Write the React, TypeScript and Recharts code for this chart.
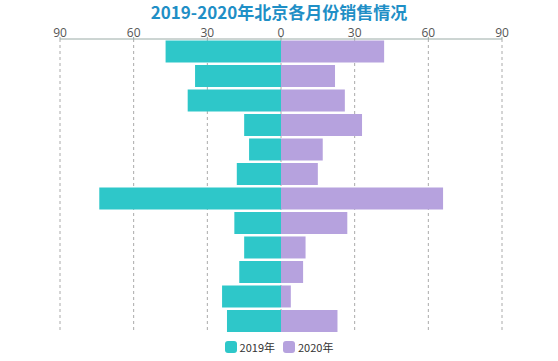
import { BarChart, Bar, XAxis, YAxis, CartesianGrid } from 'recharts';

const months = ['1月', '2月', '3月', '4月', '5月', '6月', '7月', '8月', '9月', '10月', '11月', '12月'];
const sales2019 = [47, 35, 38, 15, 13, 18, 74, 19, 15, 17, 24, 22];
const sales2020 = [42, 22, 26, 33, 17, 15, 66, 27, 10, 9, 4, 23];
const axisTicks = [-90, -60, -30, 0, 30, 60, 90];

const TEAL = '#2ec7c9';
const PURPLE = '#b6a2de';
const FONT = '"Noto Sans CJK SC", "Open Sans", sans-serif';

export default function App() {
  // 2019 drawn to the left as negative values
  const chartData = months.map((m, i) => ({
    month: m,
    y2019: -sales2019[i],
    y2020: sales2020[i],
  }));

  return (
    <div style={{ position: 'absolute', left: 0, top: 0, width: 558, height: 361, background: '#fff', fontFamily: FONT }}>
      <div
        style={{
          position: 'absolute',
          top: 4,
          left: 0,
          width: 558,
          textAlign: 'center',
          fontSize: 17,
          lineHeight: '15px',
          fontWeight: 'bold',
          color: '#1f8fc6',
        }}
      >
        2019-2020年北京各月份销售情况
      </div>
      <BarChart
        width={558}
        height={361}
        data={chartData}
        layout="vertical"
        stackOffset="sign"
        barCategoryGap="6%"
        margin={{ top: 19, right: 56, bottom: 28, left: 60 }}
      >
        <CartesianGrid horizontal={false} stroke="#aaa" strokeDasharray="3 3" />
        <XAxis
          type="number"
          orientation="top"
          domain={[-90, 90]}
          ticks={axisTicks}
          tickFormatter={(v: number) => String(Math.abs(v))}
          axisLine={{ stroke: '#9aaba6' }}
          tickLine={{ stroke: '#9aaba6' }}
          tickSize={2}
          tickMargin={0}
          tick={{ fill: '#555', fontSize: 12, fontFamily: '"Open Sans", sans-serif' }}
          height={20}
        />
        <YAxis type="category" dataKey="month" hide />
        <Bar dataKey="y2019" stackId="a" fill={TEAL} isAnimationActive={false} />
        <Bar dataKey="y2020" stackId="a" fill={PURPLE} isAnimationActive={false} />
      </BarChart>
      <div
        style={{
          position: 'absolute',
          top: 339,
          left: 0,
          width: 558,
          display: 'flex',
          justifyContent: 'center',
          gap: 8,
          fontSize: 11,
          color: '#333',
        }}
      >
        {[
          { name: '2019年', color: TEAL },
          { name: '2020年', color: PURPLE },
        ].map((item) => (
          <div key={item.name} style={{ display: 'flex', alignItems: 'center', gap: 3 }}>
            <span style={{ width: 12, height: 12, borderRadius: 3, background: item.color, display: 'inline-block' }} />
            <span>{item.name}</span>
          </div>
        ))}
      </div>
    </div>
  );
}
